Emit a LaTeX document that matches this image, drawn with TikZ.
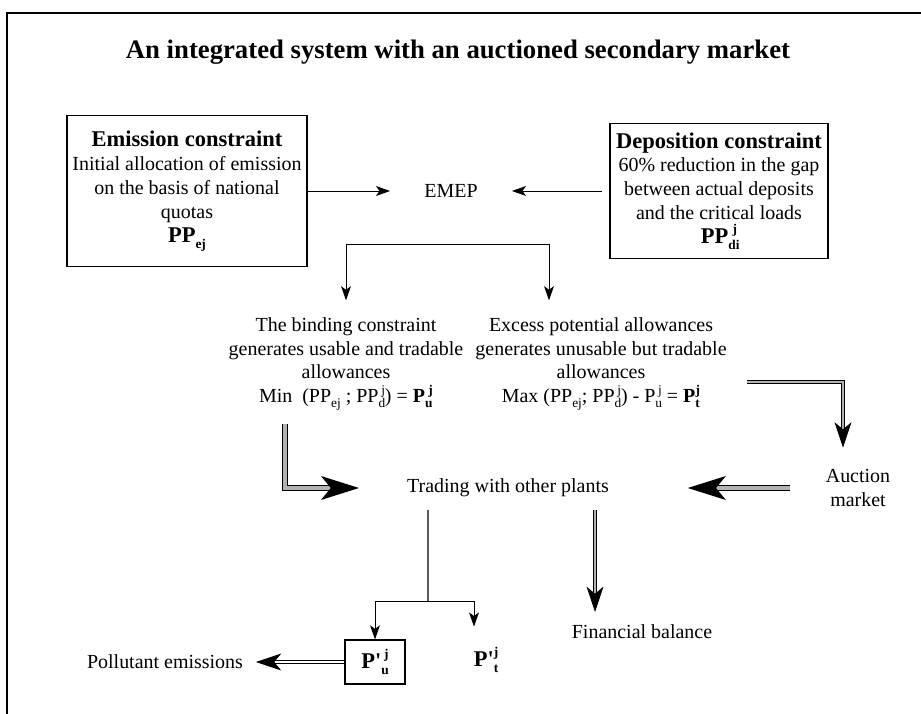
\documentclass[tikz,border=0pt]{standalone}
\usepackage{fontspec}
\setmainfont{Liberation Serif}
\usetikzlibrary{arrows.meta}

\newcommand{\lo}[1]{\raisebox{-0.55ex}{\fontsize{9.5}{10}\selectfont #1}}
\newcommand{\hi}[1]{\raisebox{0.95ex}{\fontsize{9.5}{10}\selectfont #1}}
\newcommand{\subsup}[3][0.2em]{\lo{#2}\kern-#1\hi{#3}}
\newcommand{\headfont}{\fontsize{16}{17}\selectfont\bfseries}

\tikzset{
  txt/.style={font=\fontsize{14.2}{17}\selectfont, align=center},
  cbox/.style={txt, draw, line width=0.8pt},
  thinarr/.style={line width=0.7pt, -{Stealth[length=10pt,width=7pt,inset=2.5pt]}},
  meddbl/.style={line width=0.6pt, double=gray!60, double distance=1.8pt, -{Stealth[length=18pt,width=12pt,inset=5pt]}},
  pollarr/.style={line width=0.5pt, double, double distance=1.2pt, -{Stealth[length=18pt,width=12pt,inset=5pt]}},
  bigdbl/.style={line width=0.8pt, double=gray!60, double distance=2.4pt, -{Stealth[length=27pt,width=17pt,inset=7pt]}},
}

\begin{document}
\begin{tikzpicture}[x=0.025cm, y=-0.025cm]
\useasboundingbox (0,0) rectangle (921,714);
\draw[line width=1.4pt] (7,714) -- (7,13) -- (921,13);

\node[font=\fontsize{19}{23}\selectfont\bfseries] (title) at (458,52) {An integrated system with an auctioned secondary market};

% constraints
\node[cbox, minimum width=6cm, minimum height=3.775cm] (emis) at (187,191)
  {{\headfont Emission constraint}\\Initial allocation of emission\\on the basis of national\\quotas\\{\headfont PP\lo{ej}}};
\node[cbox, minimum width=5.45cm, minimum height=3.375cm] (dep) at (719,191)
  {{\headfont Deposition constraint}\\60\% reduction in the gap\\between actual deposits\\and the critical loads\\{\headfont PP\subsup[0.3em]{di}{j}}};
\node[txt, inner xsep=0.85cm, inner ysep=3pt] (emep) at (451,191) {EMEP};

% allowances
\node[txt] (bind) at (346,364) {The binding constraint\\generates usable and tradable\\allowances\\Min~~(PP\lo{ej} ; PP\subsup{d}{j}) = \textbf{P\subsup{u}{j}}};
\node[txt] (excess) at (601,364) {Excess potential allowances\\generates unusable but tradable\\allowances\\Max (PP\lo{ej}; PP\subsup{d}{j}) - P\subsup{u}{j} = \textbf{P\subsup{t}{j}}};

\node[txt] (trade) at (508,488) {Trading with other plants};
\node[txt] (auction) at (858,488) {Auction\\market};
\node[txt] (fin) at (642,632) {Financial balance};
\node[txt, draw, line width=0.8pt, minimum width=1.5cm, minimum height=1.1cm] (pu) at (375,662) {{\headfont P\textquotesingle\subsup{u}{j}}};
\node[txt] (pt) at (486,660) {{\headfont P\textquotesingle\subsup{t}{j}}};
\node[txt] (poll) at (165,662) {Pollutant emissions};

\coordinate (split) at (451,244);
\coordinate (tsplit) at (428,601);
\coordinate (exit) at (747,382);

\draw[thinarr] (emis) -- (emep);
\draw[thinarr, shorten <=0.175cm] (dep) -- (emep);
\draw[line width=0.5pt, double, double distance=1pt] (emep) -- (split);
\draw[thinarr, shorten >=0.3cm] (split) -| (bind);
\draw[thinarr, shorten >=0.3cm] (split) -| ([xshift=-1.3cm]excess.north);

\draw[bigdbl, shorten <=0.2cm, shorten >=1.08cm] ([xshift=-1.525cm]bind.south) |- (trade);
\draw[meddbl, shorten >=0.42cm] (exit) -| ([xshift=-0.375cm]auction.north);
\draw[bigdbl, shorten <=0.78cm, shorten >=1.85cm] (auction) -- (trade);

\draw[line width=0.8pt, shorten <=0.2cm] ([xshift=-2cm]trade.south) -- (tsplit);
\draw[thinarr] (tsplit) -| (pu);
\draw[thinarr, shorten >=0.4cm] (tsplit) -| ([xshift=-0.3cm]pt.north);
\draw[meddbl, shorten <=0.2cm, shorten >=0.2cm] ([xshift=2.175cm]trade.south) -- ([xshift=2.175cm]trade.south |- fin.north);
\draw[pollarr, shorten >=0.2cm] (pu) -- (poll);
\end{tikzpicture}
\end{document}
